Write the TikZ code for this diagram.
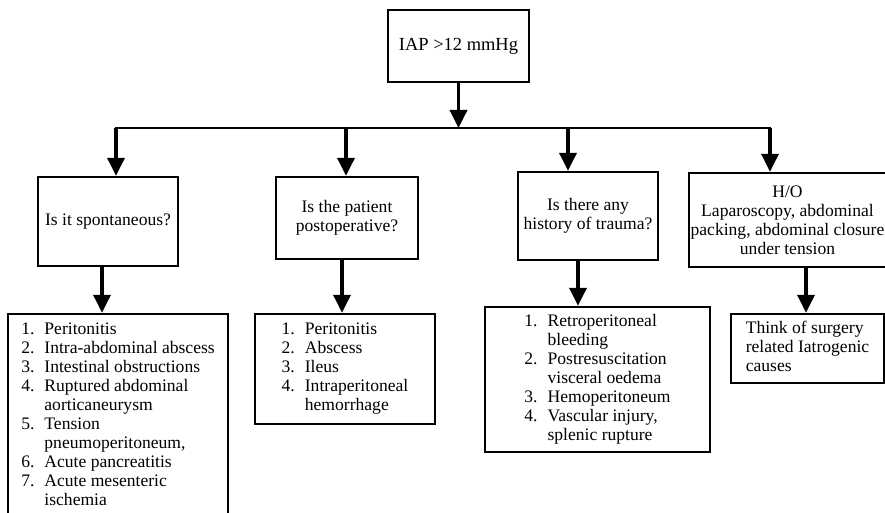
\documentclass[tikz,border=0pt]{standalone}
\usepackage{fontspec}
\setmainfont{Liberation Serif}
\usetikzlibrary{arrows.meta}
\newcommand{\numlist}[1]{\begin{tabular}{@{}r@{\hspace{0.2cm}}l@{}}#1\end{tabular}}

\begin{document}
\begin{tikzpicture}[every node/.style={font=\fontsize{10}{10.8}\selectfont},
        qbox/.style={draw, line width=1.4pt, inner sep=1pt, align=center},
        arr/.style={line width=2pt, -{Triangle[length=0.36cm,width=0.34cm]}}]
        \path[use as bounding box, clip] (0,0) rectangle (17.7,10.24);
        \node[qbox, minimum width=2.82cm, minimum height=1.44cm, font=\fontsize{10.5}{11}\selectfont] (iap) at (9.17,9.32) {IAP >12 mmHg};
        \coordinate (hub) at (9.17,7.68);
        \coordinate (j1) at (2.32,7.68);
        \coordinate (j2) at (6.92,7.68);
        \coordinate (j3) at (11.36,7.68);
        \coordinate (j4) at (15.40,7.68);
        \node[qbox, minimum width=2.80cm, minimum height=1.78cm] (q1) at (2.16,5.81) {Is it spontaneous?};
        \node[qbox, minimum width=2.84cm, minimum height=1.64cm] (q2) at (6.94,5.88) {Is the patient\\postoperative?};
        \node[qbox, minimum width=2.80cm, minimum height=1.76cm] (q3) at (11.76,5.92) {Is there any\\history of trauma?};
        \node[qbox, minimum width=3.86cm, minimum height=1.88cm] (q4) at (15.75,5.84) {H/O\\Laparoscopy, abdominal\\packing, abdominal closure\\under tension};
        \node[qbox, minimum width=4.40cm, minimum height=4.08cm] (l1) at (2.36,1.92) {\numlist{1. & Peritonitis\\ 2. & Intra-abdominal abscess\\ 3. & Intestinal obstructions\\ 4. & Ruptured abdominal\\ & aorticaneurysm\\ 5. & Tension\\ & pneumoperitoneum,\\ 6. & Acute pancreatitis\\ 7. & Acute mesenteric\\ & ischemia}};
        \node[qbox, minimum width=3.60cm, minimum height=2.20cm] (l2) at (6.90,2.86) {\numlist{1. & Peritonitis\\ 2. & Abscess\\ 3. & Ileus\\ 4. & Intraperitoneal\\ & hemorrhage}};
        \node[qbox, minimum width=4.50cm, minimum height=2.90cm] (l3) at (11.95,2.65) {\numlist{1. & Retroperitoneal\\ & bleeding\\ 2. & Postresuscitation\\ & visceral oedema\\ 3. & Hemoperitoneum\\ 4. & Vascular injury,\\ & splenic rupture}};
        \node[qbox, minimum width=3.06cm, minimum height=1.38cm] (l4) at (16.15,3.27) {\begin{tabular}{@{}l@{}}Think of surgery\\ related Iatrogenic\\ causes\end{tabular}};
        % top to branches
        \draw[arr] (iap) -- (hub);
        \draw[line width=1.6pt, line cap=rect] (j1) -- (j4);
        \draw[arr] (j1) -- (j1 |- q1.north);
        \draw[arr] (j2) -- (j2 |- q2.north);
        \draw[arr] (j3) -- (j3 |- q3.north);
        \draw[arr] (j4) -- (j4 |- q4.north);
        % questions to causes
        \draw[arr] ([xshift=-0.12cm]q1.south) -- ([xshift=-0.12cm]q1.south |- l1.north);
        \draw[arr] ([xshift=-0.10cm]q2.south) -- ([xshift=-0.10cm]q2.south |- l2.north);
        \draw[arr] ([xshift=-0.20cm]q3.south) -- ([xshift=-0.20cm]q3.south |- l3.north);
        \draw[arr] ([xshift=0.37cm]q4.south) -- ([xshift=0.37cm]q4.south |- l4.north);
    \end{tikzpicture}
\end{document}
